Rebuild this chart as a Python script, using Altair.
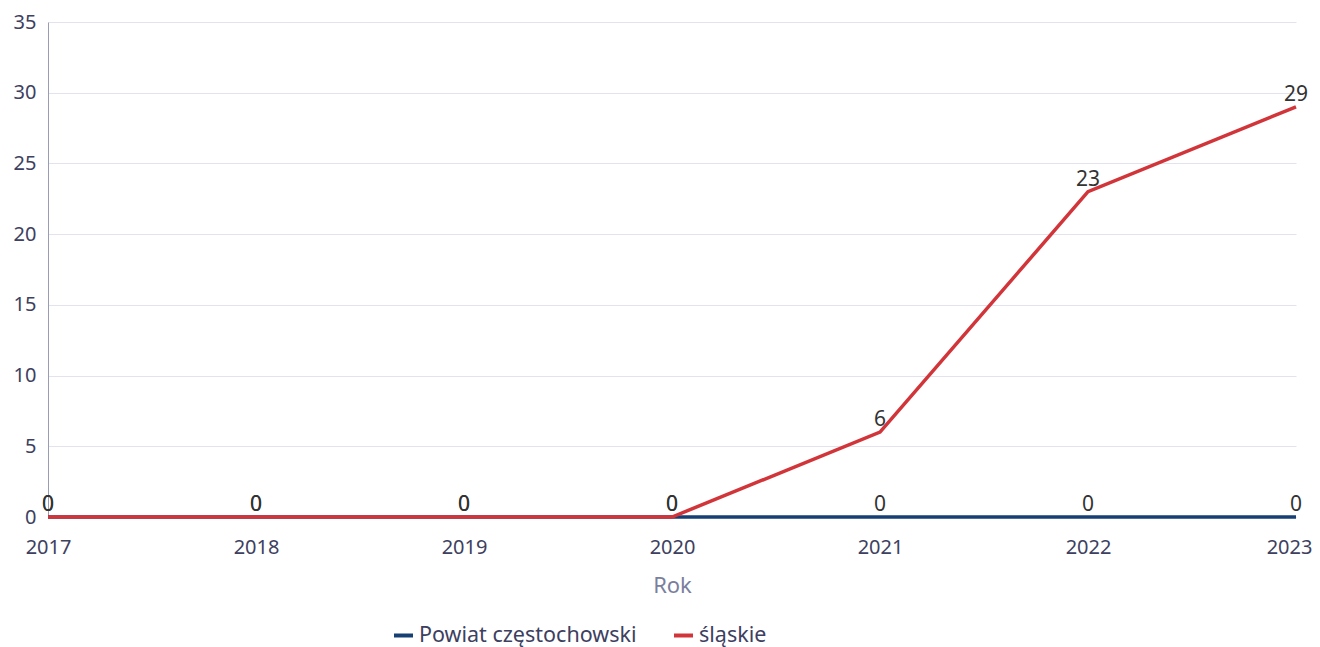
import altair as alt
import pandas as pd

years = [2017, 2018, 2019, 2020, 2021, 2022, 2023]
powiat = [0, 0, 0, 0, 0, 0, 0]
slaskie = [0, 0, 0, 0, 6, 23, 29]
series_names = ["Powiat częstochowski", "śląskie"]
colors = ["#163f73", "#d23539"]

rows = []
for y, v in zip(years, powiat):
    rows.append({"Rok": y, "value": v, "series": series_names[0], "order": 0})
for y, v in zip(years, slaskie):
    rows.append({"Rok": y, "value": v, "series": series_names[1], "order": 1})
df = pd.DataFrame(rows)

FONT = "Noto Sans"

x = alt.X("Rok:O", scale=alt.Scale(type="point", padding=0),
          axis=alt.Axis(title="Rok", labelAngle=0, labelFontSize=20, labelColor="#3d4060",
                        labelFont=FONT, titleFont=FONT, titleFontSize=22, titleColor="#7a7f9e",
                        titleFontWeight="normal", titlePadding=18, domain=False, ticks=False,
                        labelPadding=20, grid=False,
                        labelOffset={"condition": {"test": "datum.value == 2023", "value": -7},
                                     "value": 0}))
y = alt.Y("value:Q", scale=alt.Scale(domain=[0, 35]),
          axis=alt.Axis(title=None, values=[0, 5, 10, 15, 20, 25, 30, 35], labelFontSize=20,
                        labelColor="#3d4060", labelFont=FONT, ticks=False, labelPadding=12,
                        domainColor="#9a9cb5", domainWidth=1, gridColor="#e3e3ee", gridWidth=1))
color = alt.Color("series:N", scale=alt.Scale(domain=series_names, range=colors),
                  legend=alt.Legend(title=None, orient="none", legendX=344, legendY=602,
                                    direction="horizontal", symbolType="stroke",
                                    symbolStrokeWidth=4, symbolSize=361, labelFontSize=21.5,
                                    labelFont=FONT, labelColor="#3d4060", columnPadding=29,
                                    labelLimit=400))

base = alt.Chart(df)
lines = base.mark_line(strokeWidth=3.5).encode(x=x, y=y, color=color, detail="series:N",
                                               order=alt.Order("order:Q"))
texts = base.mark_text(baseline="bottom", dy=-2, fontSize=21, font=FONT, color="#333333").encode(
    x=x, y=y, text="value:Q")

chart = alt.layer(lines, texts).properties(
    width=1248, height=495,
    background="white",
    autosize=alt.AutoSizeParams(type="none"),
    padding={"left": 40, "top": 14, "right": 16, "bottom": 130},
).configure_view(stroke=None)

chart.save("out.html", embed_options={"renderer": "svg", "actions": False})
